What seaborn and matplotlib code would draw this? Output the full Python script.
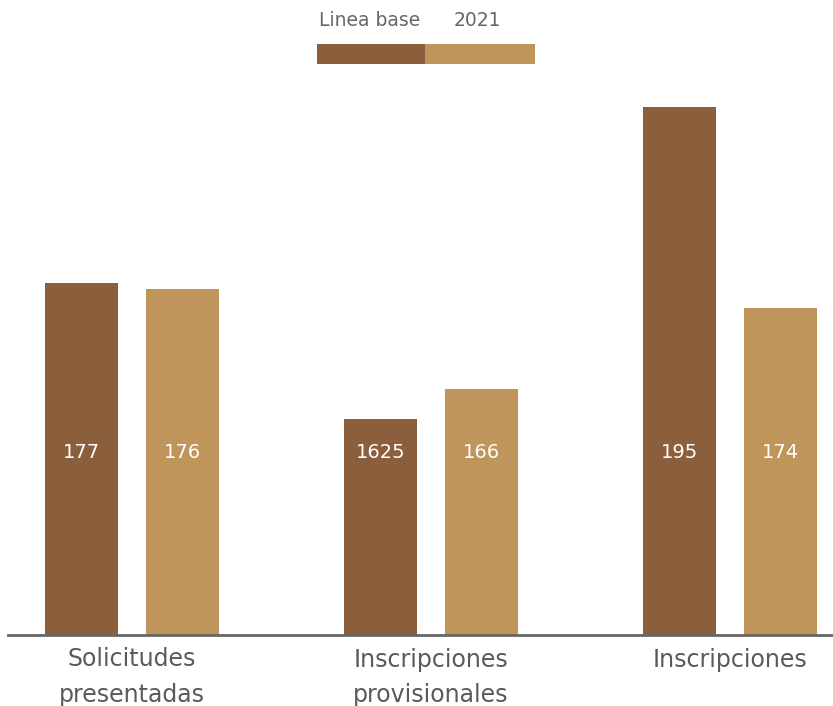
import matplotlib
matplotlib.use("Agg")
import matplotlib.pyplot as plt
from matplotlib.patches import Rectangle
import seaborn as sns
import pandas as pd

categories = ["Solicitudes\npresentadas", "Inscripciones\nprovisionales", "Inscripciones"]
series = ["Linea base", "2021"]
# bar heights (the chart does not scale them to the labels)
heights_base = [352, 216, 528]
heights_2021 = [346, 246, 327]
labels_base = ["177", "1625", "195"]
labels_2021 = ["176", "166", "174"]
colors = ["#8B5E3C", "#BF955C"]

df = pd.DataFrame({
    "cat": categories * 2,
    "serie": [series[0]] * 3 + [series[1]] * 3,
    "val": heights_base + heights_2021,
})

sns.set_style("white")
plt.rcParams["font.family"] = ["DejaVu Sans"]

fig = plt.figure(figsize=(8.33, 7.06), dpi=100)
ax = fig.add_axes([8 / 833, 71 / 706, 825 / 833, 600 / 706])

sns.barplot(data=df, x="cat", y="val", hue="serie", palette=colors,
            width=0.676, gap=0.278, saturation=1, legend=False,
            linewidth=0, ax=ax)

ax.set_xlim(-0.415, 2.344)
ax.set_ylim(0, 600)
ax.set_xlabel("")
ax.set_ylabel("")
ax.set_yticks([])
ax.tick_params(axis="x", length=0, colors="#5a5a5a", labelsize=17, pad=9)
for lbl in ax.get_xticklabels():
    lbl.set_linespacing(1.6)
sns.despine(ax=ax, left=True)
ax.spines["bottom"].set_color("#666666")
ax.spines["bottom"].set_linewidth(2)

label_y = 182
for cont, labs in zip(ax.containers, [labels_base, labels_2021]):
    for bar, t in zip(cont, labs):
        ax.text(bar.get_x() + bar.get_width() / 2, label_y, t, ha="center",
                va="center", color="white", fontsize=14)

# legend: labels above a two-colour strip
fig.text(370 / 833, 1 - 20 / 706, series[0], ha="center", va="center",
         color="#666666", fontsize=13.5)
fig.text(477 / 833, 1 - 20 / 706, series[1], ha="center", va="center",
         color="#666666", fontsize=13.5)
fig.add_artist(Rectangle((317 / 833, 1 - 64 / 706), 108 / 833, 20 / 706,
                         transform=fig.transFigure, color=colors[0], lw=0))
fig.add_artist(Rectangle((425 / 833, 1 - 64 / 706), 110 / 833, 20 / 706,
                         transform=fig.transFigure, color=colors[1], lw=0))

fig.savefig("out.png", dpi=100)
